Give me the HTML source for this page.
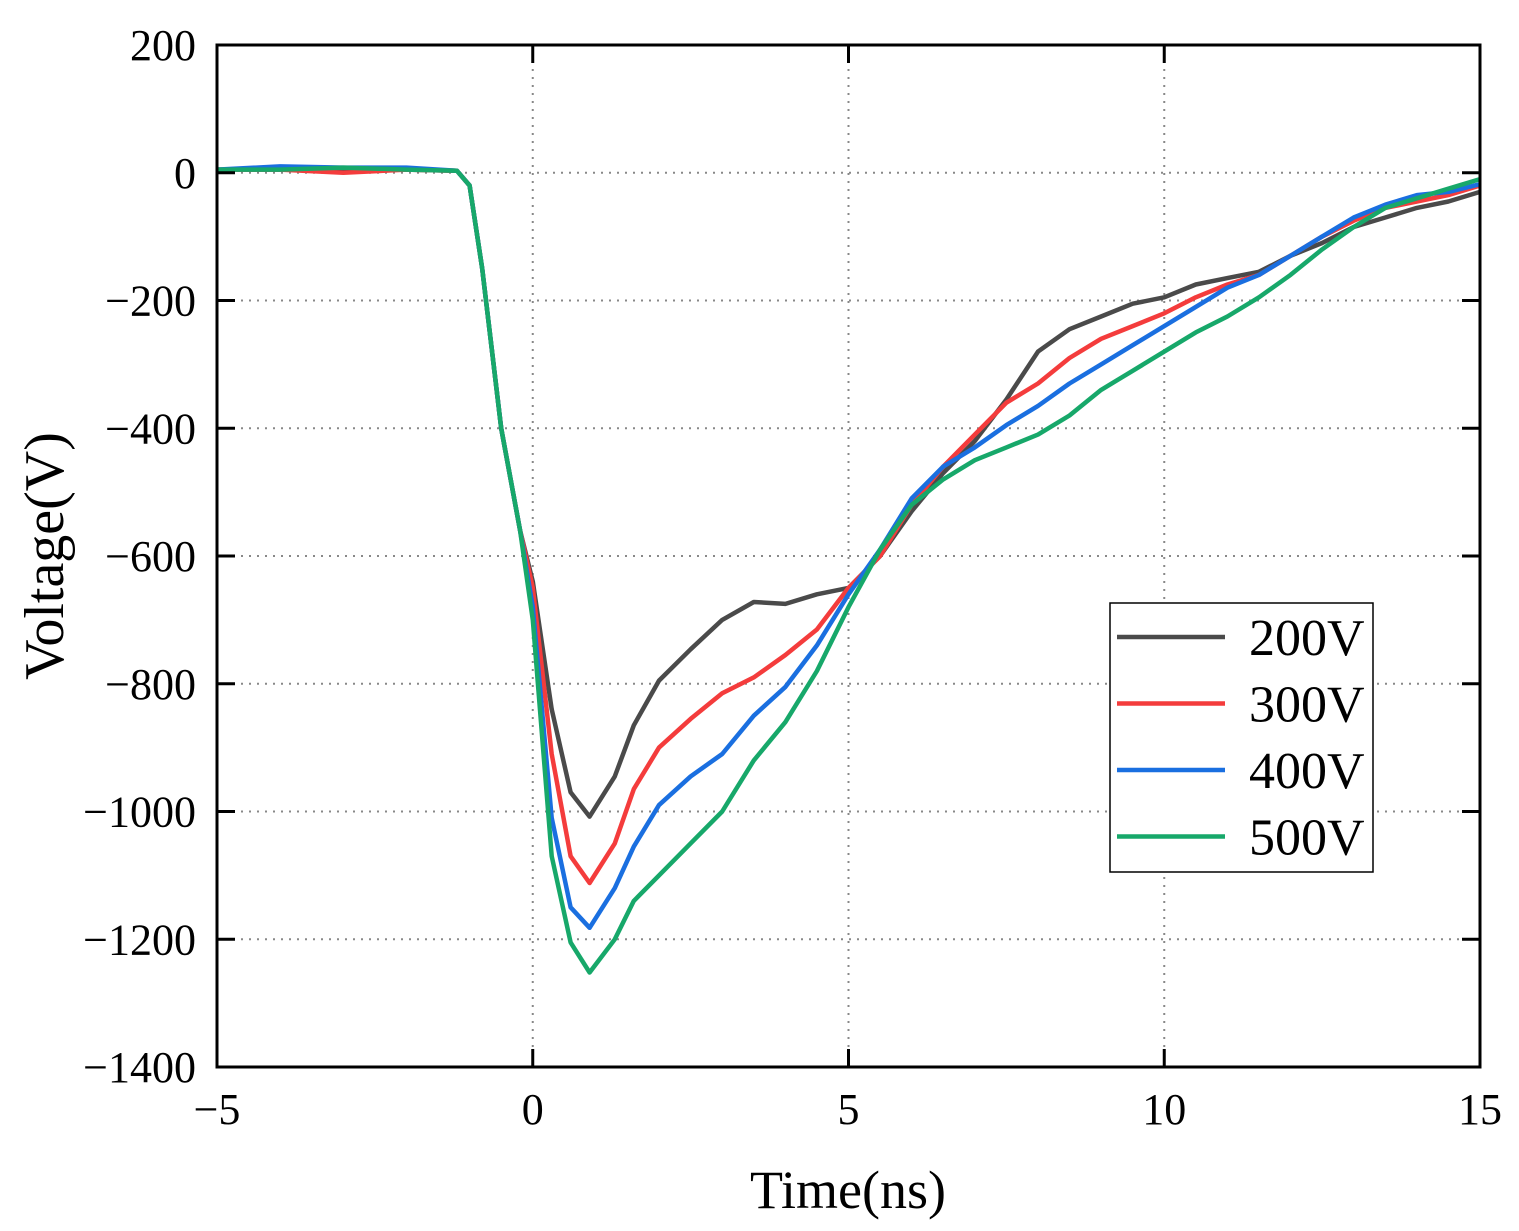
<!DOCTYPE html>
<html><head><meta charset="utf-8"><style>
body{margin:0;background:#fff}
text{font-family:"Liberation Serif",serif;fill:#000}
</style></head><body>
<svg width="1519" height="1226">
<g id="grid"></g>
<g id="series"></g>
<rect x="217" y="45" width="1263" height="1022" fill="none" stroke="#000" stroke-width="3"/>
<g id="ticks"></g>
<text x="848" y="1208" font-size="54" text-anchor="middle">Time(ns)</text>
<text transform="translate(63,556) rotate(-90)" font-size="56" text-anchor="middle">Voltage(V)</text>
<g>
<rect x="1110" y="603" width="263" height="269" fill="#fff" stroke="#000" stroke-width="1.5"/>
<g id="legend"></g>
</g>
</svg>
<script>
const times=[-5,-4,-3,-2,-1.2,-1,-0.8,-0.5,-0.2,0,0.3,0.6,0.9,1.3,1.6,2,2.5,3,3.5,4,4.5,5,5.5,6,6.5,7,7.5,8,8.5,9,9.5,10,10.5,11,11.5,12,12.5,13,13.5,14,14.5,15];
const v200=[5,5,5,5,3,-20,-150,-400,-560,-640,-840,-970,-1008,-945,-865,-795,-746,-700,-672,-675,-660,-650,-600,-530,-470,-420,-355,-280,-245,-225,-205,-195,-175,-165,-155,-130,-110,-85,-70,-55,-45,-30];
const v300=[5,5,0,5,3,-20,-150,-400,-560,-650,-910,-1070,-1112,-1050,-965,-900,-855,-815,-790,-755,-715,-650,-600,-520,-460,-410,-360,-330,-290,-260,-240,-220,-195,-175,-160,-130,-100,-75,-55,-45,-35,-20];
const v400=[5,10,8,8,3,-20,-150,-400,-560,-680,-1010,-1150,-1182,-1120,-1055,-990,-945,-910,-850,-805,-740,-660,-590,-510,-460,-430,-395,-365,-330,-300,-270,-240,-210,-180,-160,-130,-100,-70,-50,-35,-30,-18];
const v500=[5,5,8,5,3,-20,-150,-400,-560,-700,-1070,-1205,-1252,-1200,-1140,-1100,-1050,-1000,-920,-860,-780,-680,-590,-520,-480,-450,-430,-410,-380,-340,-310,-280,-250,-225,-195,-160,-120,-85,-55,-40,-25,-10];
const seriesNames=["200V","300V","400V","500V"];
const seriesColors=["#4a4a4a","#f43c3c","#1a6fe0","#17a86a"];
const xTicks=[-5,0,5,10,15];
const xTickLabels=["\u22125","0","5","10","15"];
const yTicks=[200,0,-200,-400,-600,-800,-1000,-1200,-1400];
const yTickLabels=["200","0","\u2212200","\u2212400","\u2212600","\u2212800","\u22121000","\u22121200","\u22121400"];
const X=t=>217+(t+5)*1263/20;
const Y=v=>45+(200-v)*1022/1600;
const NS="http://www.w3.org/2000/svg";
function mk(tag,attrs,parent){const e=document.createElementNS(NS,tag);for(const k in attrs)e.setAttribute(k,attrs[k]);parent.appendChild(e);return e;}
const grid=document.getElementById('grid'),ticks=document.getElementById('ticks'),ser=document.getElementById('series'),leg=document.getElementById('legend');
xTicks.forEach((t,i)=>{
 if(i>0&&i<xTicks.length-1){const g=mk('line',{x1:X(t),x2:X(t),y1:45,y2:1067,stroke:'#888','stroke-width':2,'stroke-dasharray':'2,6'},grid);
 
 }
 const tk=mk('line',{x1:X(t),x2:X(t),y1:1067,y2:1049,stroke:'#000','stroke-width':3},ticks);
 
 
 const tk2=mk('line',{x1:X(t),x2:X(t),y1:45,y2:63,stroke:'#000','stroke-width':3},ticks);
 
 
 const l=mk('text',{x:X(t),y:1124,'font-size':44,'text-anchor':'middle'},ticks);l.textContent=xTickLabels[i];
 
 
});
yTicks.forEach((v,i)=>{
 if(i>0&&i<yTicks.length-1){const g=mk('line',{x1:217,x2:1480,y1:Y(v),y2:Y(v),stroke:'#888','stroke-width':2,'stroke-dasharray':'2,6'},grid);
 
 }
 const tk=mk('line',{x1:217,x2:235,y1:Y(v),y2:Y(v),stroke:'#000','stroke-width':3},ticks);
 
 
 const tk2=mk('line',{x1:1462,x2:1480,y1:Y(v),y2:Y(v),stroke:'#000','stroke-width':3},ticks);
 
 
 const l=mk('text',{x:196,y:Y(v)+15,'font-size':44,'text-anchor':'end'},ticks);l.textContent=yTickLabels[i];
 
 
});
[v200,v300,v400,v500].forEach((vals,s)=>{
 const d=vals.map((v,i)=>(i?'L':'M')+X(times[i]).toFixed(1)+','+Y(v).toFixed(1)).join(' ');
 const p=mk('path',{d:d,fill:'none',stroke:seriesColors[s],'stroke-width':4.5,'stroke-linejoin':'round'},ser);
 
 
 const ly=637+s*66.5;
 const ll=mk('line',{x1:1117,x2:1225,y1:ly,y2:ly,stroke:seriesColors[s],'stroke-width':4.5},leg);
 
 
 const lt=mk('text',{x:1249,y:ly+18,'font-size':52},leg);lt.textContent=seriesNames[s];
 
 
});
</script>
</body></html>
